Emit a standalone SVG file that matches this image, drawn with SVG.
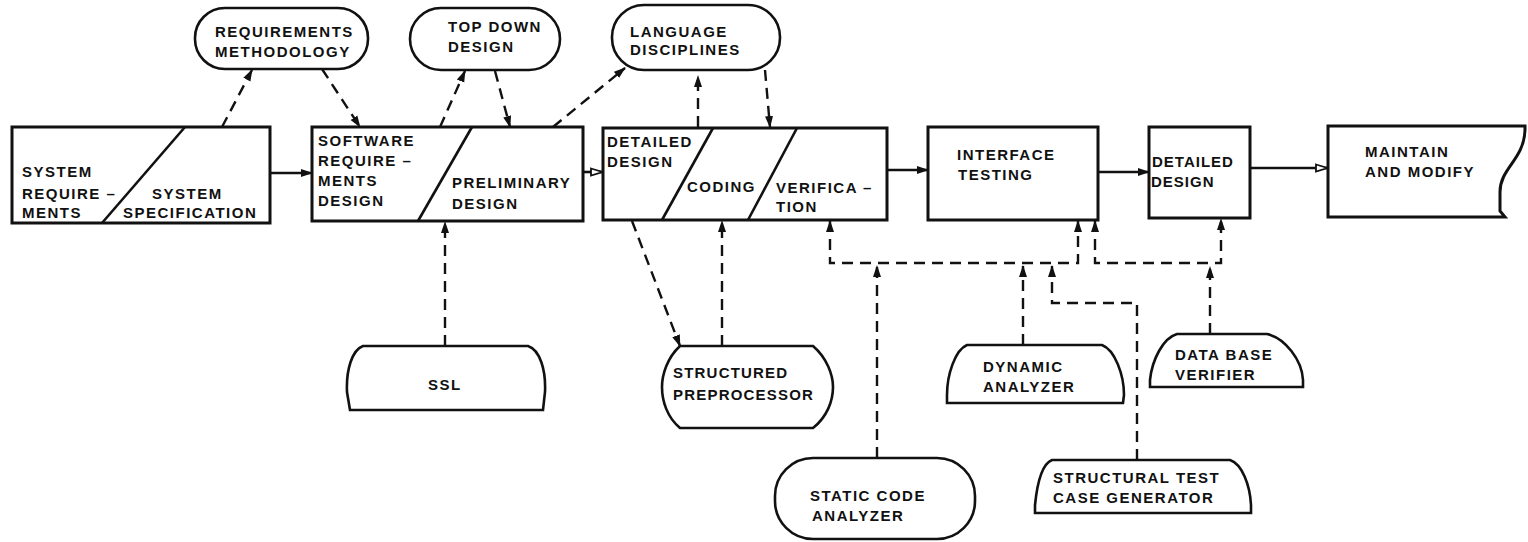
<svg xmlns="http://www.w3.org/2000/svg" width="1528" height="542" viewBox="0 0 1528 542">
  <defs>
    <style>
      .box{fill:#fff;stroke:#111;stroke-width:3}
      .term{fill:#fff;stroke:#111;stroke-width:2.6}
      .div{stroke:#111;stroke-width:2.6;fill:none}
      .flow{stroke:#111;stroke-width:2.6;fill:none}
      .dash{stroke:#111;stroke-width:2.4;fill:none;stroke-dasharray:11 7}
      text{font-family:"Liberation Sans",Arial,sans-serif;font-weight:bold;font-size:15px;letter-spacing:1.5px;fill:#111}
    </style>
    <marker id="ah" markerUnits="userSpaceOnUse" viewBox="0 0 12 10" markerWidth="12" markerHeight="10" refX="11" refY="5" orient="auto-start-reverse">
      <path d="M0,1 L12,5 L0,9 Z" fill="#111"/>
    </marker>
    <marker id="ao" markerUnits="userSpaceOnUse" viewBox="0 0 14 10" markerWidth="14" markerHeight="10" refX="13" refY="5" orient="auto">
      <path d="M1,1.5 L12.5,5 L1,8.5 Z" fill="#fff" stroke="#111" stroke-width="1.8"/>
    </marker>
  </defs>
  <rect width="1528" height="542" fill="#fff"/>

  <!-- connectors -->
  <g id="connectors">
    <!-- main flow -->
    <line class="flow" x1="270" y1="173" x2="312" y2="173" marker-end="url(#ah)"/>
    <line class="flow" x1="583" y1="172" x2="603" y2="172" marker-end="url(#ao)"/>
    <line class="flow" x1="887" y1="170" x2="928" y2="170" marker-end="url(#ah)"/>
    <line class="flow" x1="1098" y1="172" x2="1149" y2="172" marker-end="url(#ah)"/>
    <line class="flow" x1="1250" y1="168" x2="1328" y2="168" marker-end="url(#ao)"/>
    <!-- methodology links -->
    <line class="dash" x1="222" y1="127" x2="252" y2="70" marker-end="url(#ah)"/>
    <line class="dash" x1="322" y1="69" x2="360" y2="127" marker-end="url(#ah)"/>
    <line class="dash" x1="440" y1="127" x2="465" y2="71" marker-end="url(#ah)"/>
    <line class="dash" x1="495" y1="71" x2="510" y2="127" marker-end="url(#ah)"/>
    <line class="dash" x1="553" y1="127" x2="625" y2="68" marker-end="url(#ah)"/>
    <line class="dash" x1="698" y1="127" x2="698" y2="76" marker-end="url(#ah)"/>
    <line class="dash" x1="765" y1="70" x2="770" y2="127" marker-end="url(#ah)"/>
    <!-- tool links -->
    <line class="dash" x1="445" y1="346" x2="445" y2="222" marker-end="url(#ah)"/>
    <line class="dash" x1="632" y1="221" x2="680" y2="346" marker-end="url(#ah)"/>
    <line class="dash" x1="722" y1="346" x2="722" y2="221" marker-end="url(#ah)"/>
    <path class="dash" d="M830,221 V263 H1078 V221" marker-start="url(#ah)" marker-end="url(#ah)"/>
    <path class="dash" d="M1095,221 V263 H1221 V219" marker-start="url(#ah)" marker-end="url(#ah)"/>
    <line class="dash" x1="877" y1="458" x2="877" y2="266" marker-end="url(#ah)"/>
    <line class="dash" x1="1023" y1="345" x2="1023" y2="266" marker-end="url(#ah)"/>
    <path class="dash" d="M1137,460 V303 H1052 V266" marker-end="url(#ah)"/>
    <line class="dash" x1="1210" y1="334" x2="1210" y2="267" marker-end="url(#ah)"/>
  </g>

  <g id="system-spec">
    <rect class="box" x="12" y="127" width="258" height="96"/>
    <line class="div" x1="185" y1="127" x2="102" y2="223"/>
    <text x="22" y="177">SYSTEM</text>
    <text x="22" y="199">REQUIRE –</text>
    <text x="22" y="218">MENTS</text>
    <text x="152" y="199">SYSTEM</text>
    <text x="123" y="218">SPECIFICATION</text>
  </g>

  <g id="req-methodology">
    <rect class="term" x="195" y="8" width="173" height="61" rx="30"/>
    <text x="215" y="37">REQUIREMENTS</text>
    <text x="215" y="57">METHODOLOGY</text>
  </g>

  <g id="software-req">
    <rect class="box" x="312" y="127" width="271" height="94"/>
    <line class="div" x1="472" y1="127" x2="418" y2="221"/>
    <text x="318" y="146">SOFTWARE</text>
    <text x="318" y="166">REQUIRE –</text>
    <text x="318" y="186">MENTS</text>
    <text x="318" y="206">DESIGN</text>
    <text x="452" y="188">PRELIMINARY</text>
    <text x="452" y="209">DESIGN</text>
  </g>

  <g id="top-down">
    <rect class="term" x="410" y="8" width="150" height="62" rx="31"/>
    <text x="448" y="32">TOP DOWN</text>
    <text x="448" y="52">DESIGN</text>
  </g>

  <g id="language">
    <rect class="term" x="612" y="5" width="168" height="65" rx="32"/>
    <text x="630" y="37">LANGUAGE</text>
    <text x="630" y="55">DISCIPLINES</text>
  </g>

  <g id="design-code-verify">
    <rect class="box" x="603" y="128" width="284" height="92"/>
    <line class="div" x1="713" y1="128" x2="662" y2="220"/>
    <line class="div" x1="797" y1="128" x2="748" y2="220"/>
    <text x="607" y="147">DETAILED</text>
    <text x="607" y="167">DESIGN</text>
    <text x="687" y="192">CODING</text>
    <text x="776" y="193">VERIFICA –</text>
    <text x="776" y="212">TION</text>
  </g>

  <g id="interface-testing">
    <rect class="box" x="928" y="127" width="170" height="93"/>
    <text x="957" y="160">INTERFACE</text>
    <text x="958" y="180">TESTING</text>
  </g>

  <g id="detailed-design">
    <rect class="box" x="1149" y="127" width="101" height="91"/>
    <text x="1152" y="167" style="letter-spacing:1px">DETAILED</text>
    <text x="1151" y="187" style="letter-spacing:1px">DESIGN</text>
  </g>

  <g id="maintain">
    <path class="box" d="M1328,126 H1525 V130 C1524,160 1500,168 1500,192 V211 L1505,217 H1328 Z"/>
    <text x="1365" y="157">MAINTAIN</text>
    <text x="1365" y="177">AND MODIFY</text>
  </g>

  <g id="ssl">
    <path class="term" d="M363,346 H528 C540,350 546,370 545,392 L543,410 H350 L347,392 C346,370 352,350 363,346 Z"/>
    <text x="428" y="390">SSL</text>
  </g>

  <g id="preprocessor">
    <path class="term" d="M680,346 H813 C827,358 833,375 833,387 C833,401 827,417 813,428 H680 C667,417 662,401 662,387 C662,375 667,358 680,346 Z"/>
    <text x="673" y="378" style="letter-spacing:1.2px">STRUCTURED</text>
    <text x="673" y="400" style="letter-spacing:1.2px">PREPROCESSOR</text>
  </g>

  <g id="static-analyzer">
    <rect class="term" x="775" y="458" width="200" height="81" rx="38"/>
    <text x="810" y="501">STATIC CODE</text>
    <text x="812" y="521">ANALYZER</text>
  </g>

  <g id="dynamic-analyzer">
    <path class="term" d="M967,345 H1102 C1115,350 1124,375 1124,395 L1123,403 H947 L947,395 C947,375 955,350 967,345 Z"/>
    <text x="983" y="372">DYNAMIC</text>
    <text x="983" y="392">ANALYZER</text>
  </g>

  <g id="test-generator">
    <path class="term" d="M1052,460 H1230 C1242,464 1250,485 1251,505 L1251,513 H1035 L1035,505 C1037,485 1042,464 1052,460 Z"/>
    <text x="1053" y="483">STRUCTURAL TEST</text>
    <text x="1053" y="503">CASE GENERATOR</text>
  </g>

  <g id="db-verifier">
    <path class="term" d="M1177,334 H1267 C1285,338 1302,360 1303,380 L1303,387 H1150 L1150,380 C1152,360 1163,338 1177,334 Z"/>
    <text x="1175" y="360">DATA BASE</text>
    <text x="1175" y="380">VERIFIER</text>
  </g>
</svg>
